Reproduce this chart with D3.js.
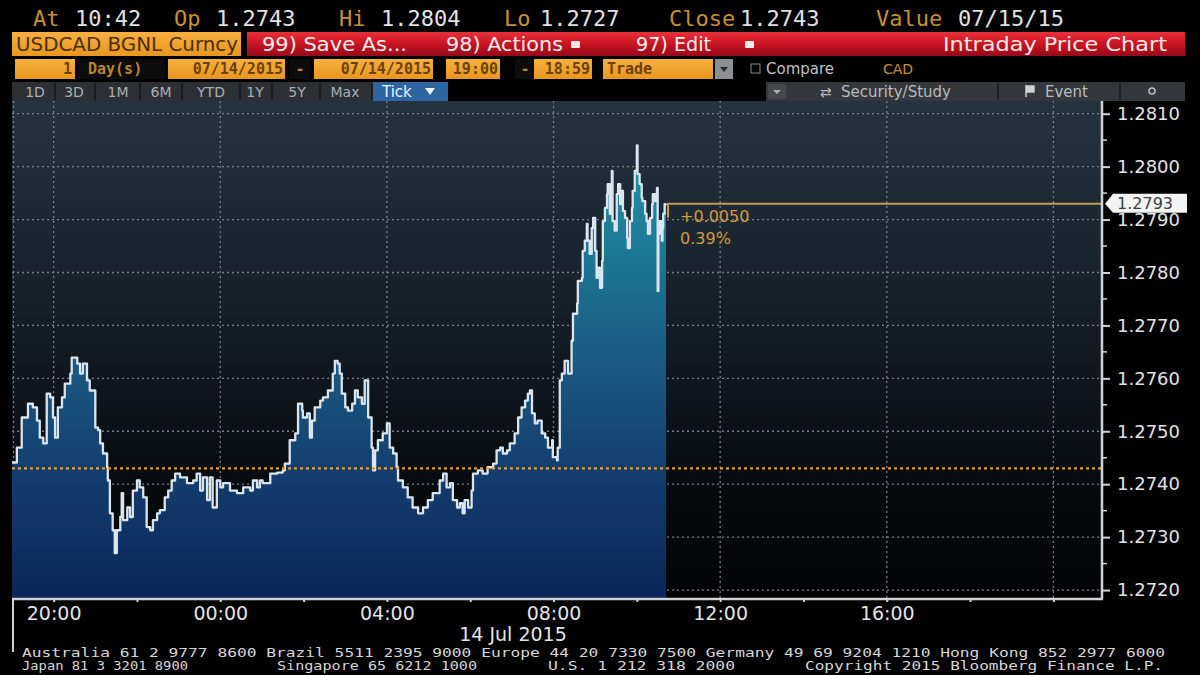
<!DOCTYPE html>
<html><head><meta charset="utf-8">
<script src="https://cdn.jsdelivr.net/npm/d3@7"></script>
<style>html,body{margin:0;padding:0;background:#000;} svg{display:block;}</style>
</head><body><svg id="c" width="1200" height="675"></svg>
<script>
// ---------------- DATA ----------------
const tickTimes = [
"19:00","19:07","19:14","19:23","19:30","19:36","19:40","19:45","19:50","19:55",
"19:59","20:02","20:06","20:12","20:16","20:24","20:26","20:34","20:38","20:42",
"20:48","20:52","21:00","21:04","21:07","21:11","21:17","21:18","21:21","21:25",
"21:28","21:31","21:36","21:38","21:40","21:46","21:50","21:54","22:00","22:04",
"22:09","22:14","22:19","22:23","22:29","22:33","22:40","22:45","22:50","22:55",
"23:02","23:12","23:21","23:26","23:31","23:35","23:41","23:45","23:49","23:55",
"00:00","00:04","00:14","00:24","00:33","00:43","00:47","00:53","00:57","01:01",
"01:12","01:22","01:30","01:33","01:40","01:48","01:52","01:58","01:59","02:05",
"02:09","02:12","02:16","02:24","02:28","02:35","02:42","02:45","02:49","02:52",
"02:55","03:00","03:04","03:10","03:14","03:18","03:24","03:28","03:33","03:38",
"03:40","03:43","03:47","03:54","04:00","04:04","04:09","04:14","04:16","04:23",
"04:30","04:37","04:45","04:52","04:59","05:06","05:16","05:21","05:26","05:31",
"05:35","05:41","05:45","05:49","05:52","05:57","06:02","06:04","06:11","06:18",
"06:25","06:33","06:38","06:43","06:47","06:53","06:57","07:04","07:09","07:14",
"07:19","07:23","07:26","07:29","07:33","07:37","07:43","07:48","07:52","07:58",
"07:59","08:05","08:06","08:09","08:12","08:16","08:21","08:26","08:28","08:34",
"08:35","08:41","08:42","08:45","08:48","08:49","08:52","08:55","08:57","09:00",
"09:02","09:04","09:07","09:10","09:11","09:14","09:17","09:18","09:21","09:24",
"09:25","09:28","09:31","09:33","09:36","09:38","09:40","09:43","09:46","09:47",
"09:50","09:53","09:54","09:57","10:00","10:01","10:04","10:07","10:08","10:12",
"10:14","10:16","10:19","10:22","10:23","10:26","10:29","10:30","10:31","10:33",
"10:36","10:37","10:38","10:40","10:42"
];
const tickValues = [
1.27441,1.27469,1.27526,1.27552,1.27545,1.27520,1.27488,1.27477,1.27571,1.27564,
1.27526,1.27488,1.27545,1.27564,1.27590,1.27609,1.27639,1.27628,1.27609,1.27628,
1.27596,1.27577,1.27507,1.27502,1.27477,1.27458,1.27432,1.27407,1.27345,1.27313,
1.27270,1.27313,1.27338,1.27383,1.27332,1.27356,1.27338,1.27388,1.27407,1.27394,
1.27375,1.27319,1.27313,1.27332,1.27345,1.27351,1.27375,1.27388,1.27407,1.27420,
1.27413,1.27402,1.27407,1.27420,1.27388,1.27413,1.27370,1.27413,1.27356,1.27407,
1.27394,1.27402,1.27388,1.27383,1.27394,1.27388,1.27407,1.27394,1.27407,1.27402,
1.27420,1.27422,1.27426,1.27439,1.27483,1.27496,1.27552,1.27539,1.27526,1.27534,
1.27488,1.27520,1.27545,1.27558,1.27564,1.27577,1.27609,1.27633,1.27628,1.27609,
1.27571,1.27545,1.27539,1.27552,1.27577,1.27564,1.27552,1.27596,1.27526,1.27469,
1.27426,1.27464,1.27483,1.27496,1.27515,1.27469,1.27458,1.27432,1.27407,1.27394,
1.27375,1.27356,1.27345,1.27356,1.27370,1.27383,1.27407,1.27420,1.27394,1.27402,
1.27370,1.27356,1.27364,1.27345,1.27370,1.27356,1.27388,1.27420,1.27426,1.27420,
1.27432,1.27439,1.27464,1.27469,1.27458,1.27464,1.27477,1.27496,1.27526,1.27545,
1.27558,1.27571,1.27577,1.27534,1.27515,1.27520,1.27496,1.27488,1.27469,1.27483,
1.27451,1.27445,1.27469,1.27596,1.27609,1.27633,1.27609,1.27671,1.27722,1.27741,
1.27784,1.27790,1.27841,1.27860,1.27892,1.27860,1.27835,1.27884,1.27903,1.27841,
1.27790,1.27809,1.27771,1.27822,1.27897,1.27922,1.27948,1.27967,1.27911,1.27992,
1.27897,1.27879,1.27948,1.27967,1.27929,1.27954,1.27916,1.27903,1.27865,1.27846,
1.27897,1.27922,1.27954,1.27992,1.28040,1.27986,1.27967,1.27941,1.27935,1.27911,
1.27897,1.27873,1.27903,1.27929,1.27948,1.27935,1.27960,1.27765,1.27873,1.27897,
1.27860,1.27884,1.27911,1.27929,1.27930
];
const yTickValues = [1.2720,1.2730,1.2740,1.2750,1.2760,1.2770,1.2780,1.2790,1.2800,1.2810];
const prevClose = 1.2743;
const lastPrice = 1.2793;
const changeLabels = ["+0.0050","0.39%"];
const dateLabel = "14 Jul 2015";
const headerLabels = ["At","Op","Hi","Lo","Close","Value"];
const headerValues = ["10:42","1.2743","1.2804","1.2727","1.2743","07/15/15"];
const periodButtons = ["1D","3D","1M","6M","YTD","1Y","5Y","Max"];
const footerLine1 = "Australia 61 2 9777 8600 Brazil 5511 2395 9000 Europe 44 20 7330 7500 Germany 49 69 9204 1210 Hong Kong 852 2977 6000";
const footerLine2 = ["Japan 81 3 3201 8900","Singapore 65 6212 1000","U.S. 1 212 318 2000","Copyright 2015 Bloomberg Finance L.P."];

// ---------------- SETUP ----------------
const svg = d3.select("#c");
const plot = {left:12, right:1102, top:101, bottom:598};
const parseTick = s => { const [h,m] = s.split(":").map(Number); return new Date(2015, 6, h >= 19 ? 13 : 14, h, m); };
const data = tickTimes.map((t,i) => ({t: parseTick(t), v: tickValues[i]}));

const x = d3.scaleTime()
  .domain([new Date(2015,6,13,19,0), new Date(2015,6,14,21,10)])
  .range([plot.left, plot.right]);
const y = d3.scaleLinear().domain([1.27185, 1.28124]).range([plot.bottom, plot.top]);

const defs = svg.append("defs");
const bgGrad = defs.append("linearGradient").attr("id","bgGrad")
  .attr("gradientUnits","userSpaceOnUse").attr("x1",0).attr("x2",0).attr("y1",plot.top).attr("y2",plot.bottom);
[[0,"#24343f"],[0.25,"#1b2832"],[0.5,"#121a22"],[0.75,"#080c10"],[1,"#020203"]].forEach(s=>bgGrad.append("stop").attr("offset",s[0]).attr("stop-color",s[1]));
const areaGrad = defs.append("linearGradient").attr("id","areaGrad")
  .attr("gradientUnits","userSpaceOnUse").attr("x1",0).attr("x2",0).attr("y1",140).attr("y2",plot.bottom);
[[0,"#2396aa"],[0.3,"#1b7190"],[0.52,"#1a557f"],[0.75,"#123c6d"],[1,"#0b2658"]].forEach(s=>areaGrad.append("stop").attr("offset",s[0]).attr("stop-color",s[1]));
const redGrad = defs.append("linearGradient").attr("id","redGrad").attr("x1",0).attr("x2",0).attr("y1",0).attr("y2",1);
[[0,"#e8313a"],[0.5,"#c91422"],[1,"#96091a"]].forEach(s=>redGrad.append("stop").attr("offset",s[0]).attr("stop-color",s[1]));
const orGrad = defs.append("linearGradient").attr("id","orGrad").attr("x1",0).attr("x2",0).attr("y1",0).attr("y2",1);
[[0,"#f8b040"],[1,"#e8961e"]].forEach(s=>orGrad.append("stop").attr("offset",s[0]).attr("stop-color",s[1]));

svg.append("rect").attr("width",1200).attr("height",675).attr("fill","#000");

// ---------------- HEADER ----------------
const mono = "'DejaVu Sans Mono', 'Liberation Mono', monospace";
const sans = "'DejaVu Sans', 'Liberation Sans', sans-serif";
const hdr = svg.append("g");
const labelX = [33,174,339,504,669,876];
const valueX = [75,216,381,540,740,958];
hdr.selectAll("text.hl").data(headerLabels).join("text")
  .attr("x",(d,i)=>labelX[i]).attr("y",26).attr("fill","#c98f34")
  .style("font-family",mono).style("font-size","22px").text(d=>d);
hdr.selectAll("text.hv").data(headerValues).join("text")
  .attr("x",(d,i)=>valueX[i]).attr("y",26).attr("fill","#e2e2e2")
  .style("font-family",mono).style("font-size","22px").text(d=>d);

// row 2
hdr.append("rect").attr("x",12).attr("y",32).attr("width",229).attr("height",24).attr("fill","url(#orGrad)");
hdr.append("text").attr("x",16).attr("y",51).attr("fill","#4a2f05").style("font-family",sans).style("font-size","19px")
  .attr("textLength",222).attr("lengthAdjust","spacingAndGlyphs").text("USDCAD BGNL Curncy");
hdr.append("rect").attr("x",247).attr("y",32).attr("width",938).attr("height",24).attr("fill","url(#redGrad)");
const redItems = [["99) Save As...",262,145],["98) Actions",446,117],["97) Edit",636,75]];
redItems.forEach(r=>hdr.append("text").attr("x",r[1]).attr("y",51).attr("fill","#f4f0f0").style("font-family",sans).style("font-size","19px")
  .attr("textLength",r[2]).attr("lengthAdjust","spacingAndGlyphs").text(r[0]));
[571,745].forEach(px=>{
  hdr.append("rect").attr("x",px).attr("y",41).attr("width",9).attr("height",7).attr("rx",1).attr("fill","#f2e6e6");
});
hdr.append("text").attr("x",1167).attr("y",51).attr("text-anchor","end").attr("fill","#f6eaea").style("font-family",sans).style("font-size","19px")
  .attr("textLength",224).attr("lengthAdjust","spacingAndGlyphs").text("Intraday Price Chart");

// row 3
const r3 = [
  {x:15,w:60,t:"1",anchor:"end",tx:72,box:true},
  {x:78,w:87,t:"Day(s)",anchor:"start",tx:88,box:false},
  {x:168,w:117,t:"07/14/2015",anchor:"end",tx:283,box:true},
  {x:290,w:20,t:"-",anchor:"middle",tx:300,box:false},
  {x:314,w:119,t:"07/14/2015",anchor:"end",tx:431,box:true},
  {x:446,w:54,t:"19:00",anchor:"end",tx:498,box:true},
  {x:515,w:18,t:"-",anchor:"middle",tx:525,box:false},
  {x:534,w:58,t:"18:59",anchor:"end",tx:590,box:true},
  {x:603,w:110,t:"Trade",anchor:"start",tx:607,box:true}
];
r3.forEach(b=>{
  if(b.box) hdr.append("rect").attr("x",b.x).attr("y",59).attr("width",b.w).attr("height",20).attr("fill","url(#orGrad)");
  else hdr.append("rect").attr("x",b.x).attr("y",59).attr("width",b.w).attr("height",20).attr("fill","#0c0c0c");
  hdr.append("text").attr("x",b.tx).attr("y",74).attr("text-anchor",b.anchor)
    .attr("fill", b.box ? "#6a4206" : "#b8862e").style("font-family",mono).style("font-size","15px").style("font-weight","bold").text(b.t);
});
hdr.append("rect").attr("x",715).attr("y",59).attr("width",18).attr("height",20).attr("fill","#8c8f94");
hdr.append("path").attr("d","M720,67 L728,67 L724,72 Z").attr("fill","#2a2a2a");
hdr.append("rect").attr("x",751).attr("y",64).attr("width",9).attr("height",9).attr("fill","none").attr("stroke","#8a8a8a");
hdr.append("text").attr("x",766).attr("y",74).attr("fill","#bfc2c6").style("font-family",sans).style("font-size","15px").text("Compare");
hdr.append("text").attr("x",883).attr("y",74).attr("fill","#c98f34").style("font-family",sans).style("font-size","14px").text("CAD");

// row 4
hdr.append("rect").attr("x",12).attr("y",82).attr("width",436).attr("height",19).attr("fill","#2c2f34");
const btnC = [35,74,118,161,211,255,297,345];
const btnEdges = [12,55,95,140,182,240,272,320,372];
btnEdges.slice(1).forEach(e=>hdr.append("line").attr("x1",e).attr("x2",e).attr("y1",83).attr("y2",100).attr("stroke","#1b1d20").attr("stroke-width",2));
hdr.selectAll("text.pb").data(periodButtons).join("text")
  .attr("x",(d,i)=>btnC[i]).attr("y",97).attr("text-anchor","middle").attr("fill","#a9aeb4")
  .style("font-family",sans).style("font-size","14px").text(d=>d);
hdr.append("rect").attr("x",373).attr("y",82).attr("width",75).attr("height",19).attr("fill","#2d65a0");
hdr.append("text").attr("x",382).attr("y",97).attr("fill","#eef4fa").style("font-family",sans).style("font-size","15px").text("Tick");
hdr.append("path").attr("d","M425,88 L435,88 L430,95 Z").attr("fill","#eef4fa");
hdr.append("rect").attr("x",766).attr("y",82).attr("width",419).attr("height",19).attr("fill","#34373c");
hdr.append("rect").attr("x",768).attr("y",84).attr("width",18).attr("height",15).attr("fill","#44474c");
hdr.append("path").attr("d","M773,90 L781,90 L777,94 Z").attr("fill","#b0b0b0");
hdr.append("text").attr("x",820).attr("y",97).attr("fill","#b8bbbf").style("font-family",sans).style("font-size","14px").text("⇄");
hdr.append("text").attr("x",841).attr("y",97).attr("fill","#b8bbbf").style("font-family",sans).style("font-size","15px").text("Security/Study");
[998,1120].forEach(e=>hdr.append("line").attr("x1",e).attr("x2",e).attr("y1",83).attr("y2",100).attr("stroke","#1f2124").attr("stroke-width",2));
hdr.append("path").attr("d","M1026,85 L1026,97 M1026,86 L1034,86 L1034,92 L1026,92 Z").attr("stroke","#d0d0d0").attr("fill","#d0d0d0").attr("stroke-width",1.5);
hdr.append("text").attr("x",1045).attr("y",97).attr("fill","#b8bbbf").style("font-family",sans).style("font-size","15px").text("Event");
hdr.append("circle").attr("cx",1152).attr("cy",91).attr("r",3).attr("fill","none").attr("stroke","#b8bbbf").attr("stroke-width",1.5);

// ---------------- PLOT ----------------
svg.append("rect").attr("x",plot.left).attr("y",plot.top).attr("width",plot.right-plot.left).attr("height",plot.bottom-plot.top).attr("fill","url(#bgGrad)");

// horizontal grid
svg.append("g").selectAll("line").data(yTickValues).join("line")
  .attr("x1",plot.left).attr("x2",plot.right).attr("y1",d=>y(d)).attr("y2",d=>y(d))
  .attr("stroke","#75808a").attr("stroke-width",1.3).attr("stroke-dasharray","2,3");
// vertical grid
const gridTimes = x.ticks(d3.timeHour.every(4));
svg.append("g").selectAll("line").data(gridTimes).join("line")
  .attr("x1",d=>x(d)).attr("x2",d=>x(d)).attr("y1",plot.top).attr("y2",plot.bottom)
  .attr("stroke","#75808a").attr("stroke-width",1.3).attr("stroke-dasharray","2,3");
svg.append("line").attr("x1",plot.left+1.5).attr("x2",plot.left+1.5).attr("y1",plot.top).attr("y2",plot.bottom)
  .attr("stroke","#75808a").attr("stroke-width",1.3).attr("stroke-dasharray","2,3");

// area + line
const area = d3.area().x(d=>x(d.t)).y0(plot.bottom).y1(d=>y(d.v)).curve(d3.curveStepAfter);
const line = d3.line().x(d=>x(d.t)).y(d=>y(d.v)).curve(d3.curveStepAfter);
svg.append("path").datum(data).attr("d",area).attr("fill","url(#areaGrad)");
svg.append("path").datum(data).attr("d",line).attr("fill","none").attr("stroke","#dbe5ee").attr("stroke-width",2.3).attr("stroke-linejoin","round");

// previous close dotted line
svg.append("line").attr("x1",plot.left).attr("x2",plot.right).attr("y1",y(prevClose)).attr("y2",y(prevClose))
  .attr("stroke","#e59a33").attr("stroke-width",2.2).attr("stroke-dasharray","3,3");

// last price line
const last = data[data.length-1];
svg.append("path").attr("d",`M${x(last.t)+2},${y(lastPrice)+14} L${x(last.t)+2},${y(lastPrice)} L${plot.right},${y(lastPrice)}`)
  .attr("fill","none").attr("stroke","#c49a4c").attr("stroke-width",2);
svg.append("g").selectAll("text").data(changeLabels).join("text")
  .attr("x",x(last.t)+14).attr("y",(d,i)=>y(lastPrice)+18+i*22).attr("fill","#d9973a")
  .style("font-family",sans).style("font-size","16px").text(d=>d);

// ---------------- AXES ----------------
const axisColor = "#cfd2d6";
const yAxis = d3.axisRight(y).tickValues(yTickValues).tickSize(8).tickPadding(7).tickFormat(d3.format(".4f"));
const gy = svg.append("g").attr("transform",`translate(${plot.right},0)`).call(yAxis);
gy.select(".domain").remove();
gy.selectAll(".tick line").attr("stroke",axisColor).attr("stroke-width",2);
gy.selectAll(".tick text").attr("fill","#e4e4e4").style("font-family",sans).style("font-size","18px");
const minorY = yTickValues.slice(1).map((v,i)=>(v+yTickValues[i])/2);
svg.append("g").selectAll("line").data(minorY).join("line")
  .attr("x1",plot.right).attr("x2",plot.right+5).attr("y1",d=>y(d)).attr("y2",d=>y(d))
  .attr("stroke",axisColor).attr("stroke-width",1.5);
svg.append("line").attr("x1",plot.right).attr("x2",plot.right).attr("y1",plot.top).attr("y2",plot.bottom+1).attr("stroke",axisColor).attr("stroke-width",2.5);

const labelEnd = new Date(2015,6,14,18,0);
const xAxis = d3.axisBottom(x).tickValues(x.ticks(d3.timeHour.every(2))).tickSize(4).tickPadding(5)
  .tickFormat(d => (d.getHours()%4===0 && d < labelEnd) ? d3.timeFormat("%H:%M")(d) : "");
const gx = svg.append("g").attr("transform",`translate(0,${plot.bottom})`).call(xAxis);
gx.select(".domain").remove();
gx.selectAll(".tick line").attr("stroke",axisColor).attr("stroke-width",2);
gx.selectAll(".tick text").attr("fill","#e4e4e4").style("font-family",sans).style("font-size","19px");
svg.append("line").attr("x1",plot.left).attr("x2",plot.right+1).attr("y1",plot.bottom+1).attr("y2",plot.bottom+1).attr("stroke",axisColor).attr("stroke-width",2.5);
svg.append("line").attr("x1",plot.left+1).attr("x2",plot.left+1).attr("y1",plot.bottom).attr("y2",652).attr("stroke",axisColor).attr("stroke-width",2);
svg.append("text").attr("x",513).attr("y",641).attr("text-anchor","middle").attr("fill","#e4e4e4")
  .style("font-family",sans).style("font-size","19px").text(dateLabel);

// last price tag on axis
const ly = y(lastPrice);
svg.append("path").attr("d",`M${plot.right+3},${ly} L${plot.right+11},${ly-10} L1187,${ly-10} L1187,${ly+9} L${plot.right+11},${ly+9} Z`)
  .attr("fill","#f3f3f3");
svg.append("text").attr("x",plot.right+15).attr("y",ly+5).attr("fill","#3a3d42")
  .style("font-family",sans).style("font-size","16px").text(d3.format(".4f")(lastPrice));

// ---------------- FOOTER ----------------
svg.append("text").attr("x",22).attr("y",657).attr("fill","#d6d6d6").style("font-family",mono).style("font-size","13px")
  .attr("textLength",1143).attr("lengthAdjust","spacingAndGlyphs").text(footerLine1);
const f2x = [22,277,548,805], f2w = [166,200,187,358];
footerLine2.forEach((t,i)=>svg.append("text").attr("x",f2x[i]).attr("y",670).attr("fill","#d6d6d6").style("font-family",mono).style("font-size","13px")
  .attr("textLength",f2w[i]).attr("lengthAdjust","spacingAndGlyphs").text(t));
</script>
</body></html>
